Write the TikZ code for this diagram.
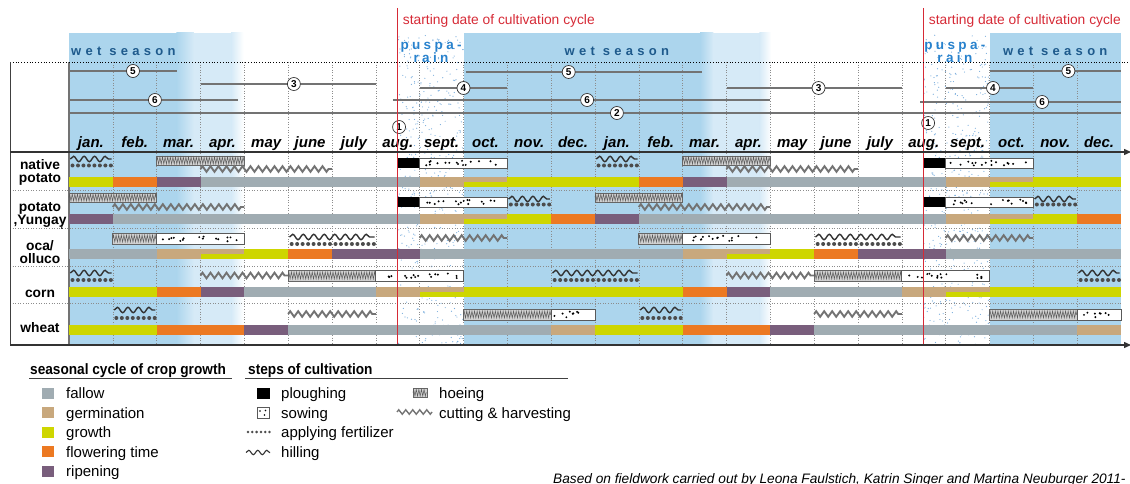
\documentclass[tikz,border=0pt]{standalone}
\usepackage{fontspec}
\setmainfont{Liberation Sans}
\newfontfamily\narrowfont[FakeStretch=0.91]{Liberation Sans}
\newfontfamily\wetfont[LetterSpace=33]{Liberation Sans}
\newfontfamily\puspafont[LetterSpace=25]{Liberation Sans}
\usetikzlibrary{decorations.pathmorphing, arrows.meta}

\definecolor{cfallow}{RGB}{160, 172, 178}
\definecolor{cgerm}{RGB}{200, 168, 125}
\definecolor{cgrow}{RGB}{206, 214, 0}
\definecolor{cflower}{RGB}{236, 121, 34}
\definecolor{cripe}{RGB}{121, 94, 124}
\definecolor{wetdark}{RGB}{172, 213, 237}
\definecolor{wetlight}{RGB}{214, 234, 247}
\definecolor{wettext}{RGB}{30, 90, 140}
\definecolor{puspatext}{RGB}{40, 130, 205}
\definecolor{puspadot}{RGB}{120, 172, 220}
\definecolor{redline}{RGB}{214, 42, 54}

\tikzset{
  hill/.style={draw=black!80, line width=1.4pt, decorate,
    decoration={snake, amplitude=2.7pt, segment length=10.5pt}},
  fertdot/.style={fill=black!70},
  cut/.style={draw=black!55, line width=1.9pt, decorate,
    decoration={zigzag, amplitude=2.8pt, segment length=8pt}},
  hoebox/.style={fill=black!18, draw=black!60, line width=0.7pt},
  hoeline/.style={draw=black!65, line width=0.5pt, decorate,
    decoration={zigzag, amplitude=3.4pt, segment length=2.6pt}},
  sowbox/.style={fill=white, draw=black!65, line width=0.8pt},
  num/.style={circle, draw=black!80, fill=white, line width=0.7pt, inner sep=0pt,
    minimum size=13pt, font=\bfseries\fontsize{10}{10}\selectfont},
  stepline/.style={draw=black!55, line width=1.1pt},
  month/.style={font=\bfseries\itshape\fontsize{15}{15}\selectfont, anchor=base, inner sep=0pt},
  crop/.style={font=\bfseries\fontsize{13.8}{13}\selectfont, align=center, inner sep=0pt},
  legtitle/.style={font=\narrowfont\bfseries\fontsize{15}{15}\selectfont, anchor=base west, inner sep=0pt},
  legtext/.style={font=\fontsize{15}{15}\selectfont, anchor=base west, inner sep=0pt},
}

% sowing box: from, to, top, bottom
\newcommand{\sowing}[4]{%
  \draw[sowbox] (#1,#3) rectangle (#2,#4);
  \pgfmathtruncatemacro{\ndots}{8*(#2-#1)}
  \foreach \i in {1,...,\ndots} {
    \pgfmathsetmacro{\dx}{#1+0.07+(#2-#1-0.14)*rnd}
    \pgfmathsetmacro{\dy}{#3+2.6+(#4-#3-5.2)*rnd}
    \fill (\dx,\dy) circle (1.1pt);
  }
}
% hoeing box: from, to, top, bottom
\newcommand{\hoeing}[4]{%
  \draw[hoebox] (#1,#3) rectangle (#2,#4);
  \draw[hoeline] (#1,{(#3+#4)/2}) -- (#2,{(#3+#4)/2});
}
% hilling with fertilizer: from, to, wave y, dots y
\newcommand{\hilling}[4]{%
  \draw[hill] (#1+0.03,#3) -- (#2-0.03,#3);
  \pgfmathtruncatemacro{\ndots}{(#2-#1-0.1)/0.125}
  \foreach \d in {0,...,\ndots} {
    \fill[fertdot] (#1+0.08+\d*0.125,#4) circle (2pt);
  }
}

\begin{document}
\begin{tikzpicture}[x=1pt, y=-1pt]
  \useasboundingbox (0,0) rectangle (1130,484);

  \begin{scope}[x=43.833pt, xshift=69pt]
  % wet seasons
  \fill[wetdark] (0,33) rectangle (2.45,345);
  \shade[left color=wetdark, right color=wetlight] (2.45,33) rectangle (2.85,345);
  \fill[wetlight] (2.85,33) rectangle (3.7,345);
  \shade[left color=wetlight, right color=white] (3.7,33) rectangle (3.98,345);

  \fill[wetdark] (9,33) rectangle (14.4,345);
  \shade[left color=wetdark, right color=wetlight] (14.4,33) rectangle (14.7,345);
  \fill[wetlight] (14.7,33) rectangle (15.75,345);
  \shade[left color=wetlight, right color=white] (15.75,33) rectangle (16.02,345);

  \fill[wetdark] (21,33) rectangle (24,345);

  % puspa rain
  \pgfmathsetseed{11}
  \foreach \s in {7.5, 19.5} {
    \foreach \i in {1,...,480} {
      \fill[puspadot] ({\s+1.5*rnd},{35+310*rnd}) circle (0.6pt);
    }
  }

  % grid
  \foreach \m in {1,...,23} {
    \draw[black!45, line width=0.6pt, dotted] (\m,62) -- (\m,345);
  }
  \draw[black!55, line width=1.4pt] (0,62) -- (0,345);
  \foreach \y in {190, 228, 266, 303} {
    \draw[black!45, line width=0.6pt, dotted] (-1.346,\y) -- (24,\y);
  }

  % native potato
  \foreach \a/\b/\c in {0/1/cgrow, 1/2/cflower, 2/3/cripe, 3/8/cfallow, 8/9/cgerm, 10/13/cgrow,
                        13/14/cflower, 14/15/cripe, 15/20/cfallow, 20/21/cgerm, 22/24/cgrow} {
    \fill[\c] (\a,177) rectangle (\b,187);
  }
  \foreach \a in {9, 21} {
    \fill[cgerm] (\a,177) rectangle (\a+1,182);
    \fill[cgrow] (\a,182) rectangle (\a+1,187);
  }
  \hilling{0}{1}{159}{165.5}
  \hilling{12}{13}{159}{165.5}
  \hoeing{2}{4}{156}{165}
  \hoeing{14}{16}{156}{165}
  \draw[cut] (3,169) -- (6,169);
  \draw[cut] (15,169) -- (18,169);
  \fill[black] (7.5,158) rectangle (8,168);
  \fill[black] (19.5,158) rectangle (20,168);
  \sowing{8}{10}{158}{168}
  \sowing{20}{22}{158}{168}

  % potato yungay
  \foreach \a/\b/\c in {0/1/cripe, 1/8/cfallow, 8/9/cgerm, 10/11/cgrow, 11/12/cflower, 12/13/cripe,
                        13/20/cfallow, 20/21/cgerm, 22/23/cgrow, 23/24/cflower} {
    \fill[\c] (\a,214) rectangle (\b,224);
  }
  \foreach \a in {9, 21} {
    \fill[cgerm] (\a,214) rectangle (\a+1,219);
    \fill[cgrow] (\a,219) rectangle (\a+1,224);
  }
  \hoeing{0}{2}{193}{202}
  \hoeing{12}{14}{193}{202}
  \draw[cut] (1,207) -- (4,207);
  \draw[cut] (13,207) -- (16,207);
  \fill[black] (7.5,197) rectangle (8,207);
  \fill[black] (19.5,197) rectangle (20,207);
  \sowing{8}{10}{197}{207}
  \sowing{20}{22}{197}{207}
  \hilling{10}{11}{199}{204.5}
  \hilling{22}{23}{199}{204.5}

  % oca / olluco
  \foreach \a/\b/\c in {0/2/cfallow, 2/3/cgerm, 4/5/cgrow, 5/6/cflower, 6/8/cripe, 8/14/cfallow,
                        14/15/cgerm, 16/17/cgrow, 17/18/cflower, 18/20/cripe, 20/24/cfallow} {
    \fill[\c] (\a,249) rectangle (\b,259);
  }
  \foreach \a in {3, 15} {
    \fill[cgerm] (\a,249) rectangle (\a+1,254);
    \fill[cgrow] (\a,254) rectangle (\a+1,259);
  }
  \hoeing{1}{2}{233}{244}
  \hoeing{13}{14}{233}{244}
  \sowing{2}{4}{233}{244}
  \sowing{14}{16}{233}{244}
  \hilling{5}{7}{237}{244}
  \hilling{17}{19}{237}{244}
  \draw[cut] (8,238) -- (10,238);
  \draw[cut] (20,238) -- (22,238);

  % corn
  \foreach \a/\b/\c in {0/2/cgrow, 2/3/cflower, 3/4/cripe, 4/7/cfallow, 7/8/cgerm, 9/14/cgrow,
                        14/15/cflower, 15/16/cripe, 16/19/cfallow, 19/20/cgerm, 21/24/cgrow} {
    \fill[\c] (\a,287) rectangle (\b,297);
  }
  \foreach \a in {8, 20} {
    \fill[cgerm] (\a,287) rectangle (\a+1,292);
    \fill[cgrow] (\a,292) rectangle (\a+1,297);
  }
  \hilling{0}{1}{273}{280}
  \hilling{11}{13}{273}{280}
  \hilling{23}{24}{273}{280}
  \draw[cut] (3,275.5) -- (5,275.5);
  \draw[cut] (15,275.5) -- (17,275.5);
  \hoeing{5}{7}{270}{281}
  \hoeing{17}{19}{270}{281}
  \sowing{7}{9}{270}{281}
  \sowing{19}{21}{270}{281}

  % wheat
  \foreach \a/\b/\c in {0/2/cgrow, 2/4/cflower, 4/5/cripe, 5/11/cfallow, 11/12/cgerm, 12/14/cgrow,
                        14/16/cflower, 16/17/cripe, 17/23/cfallow, 23/24/cgerm} {
    \fill[\c] (\a,325) rectangle (\b,335);
  }
  \hilling{1}{2}{310}{318}
  \hilling{13}{14}{310}{318}
  \draw[cut] (5,314) -- (7,314);
  \draw[cut] (17,314) -- (19,314);
  \hoeing{9}{11}{309}{320}
  \hoeing{21}{23}{309}{320}
  \sowing{11}{12}{309}{320}
  \sowing{23}{24}{309}{320}

  % durations of the steps
  \foreach \a/\b/\y/\c/\t/\nm in {0/2.46/71/1.46/5/n5a, 3/7/84/5.13/3/n3a, 0/3.86/100/1.96/6/n6a,
                                  0/24/113/12.5/2/n2, 7.39/16/100/11.82/6/n6b, 8/10/88/9/4/n4a,
                                  9.05/14.45/72/11.4/5/n5b, 15/19/88/17.1/3/n3b, 20/22/88/21.08/4/n4b,
                                  19.42/24/102/22.2/6/n6c, 21/24/71/22.8/5/n5c} {
    \draw[stepline] (\a,\y) -- (\b,\y);
    \node[num] (\nm) at (\c,\y) {\t};
  }
  \node[num] (n1a) at (7.53,127) {1};
  \node[num] (n1b) at (19.6,123) {1};

  % months
  \foreach \m [count=\i from 0] in {jan., feb., mar., apr., may, june, july, aug., sept., oct., nov., dec.,
                                    jan., feb., mar., apr., may, june, july, aug., sept., oct., nov., dec.} {
    \node[month] (mon\i) at (\i+0.5,148) {\m};
  }

  % seasons
  \foreach \x/\nm in {1.24/wet1, 12.5/wet2, 22.5/wet3} {
    \node[text=wettext, font=\wetfont\bfseries\fontsize{13}{13}\selectfont, anchor=base] (\nm) at (\x,56) {wet season};
  }
  \foreach \x/\nm in {8.26/puspa1, 20.21/puspa2} {
    \node[text=puspatext, font=\puspafont\bfseries\fontsize{13.5}{12.5}\selectfont, align=center, anchor=base,
          inner sep=0pt] (\nm) at (\x,63) {puspa-\\rain};
  }

  % starting date
  \foreach \x/\nm in {7.5/start1, 19.5/start2} {
    \draw[redline, line width=1.1pt] (\x,8) -- (\x,345);
    \node[text=redline, font=\fontsize{13.8}{14}\selectfont, anchor=base west, inner sep=0pt,
          xshift=5pt] (\nm) at (\x,25) {starting date of cultivation cycle};
  }
  \end{scope}

  % frame
  \draw[black, line width=0.8pt, dotted] (10,62) -- (1130,62);
  \draw[black!75, line width=1pt] (10,62) -- (10,345);
  \draw[black!80, line width=1.3pt, -{Triangle[length=7pt, width=6pt]}] (10,152) -- (1131,152);
  \draw[black!80, line width=1.3pt, -{Triangle[length=7pt, width=6pt]}] (10,345) -- (1131,345);

  % crops
  \node[crop] (cnative) at (40,172) {native\\potato};
  \node[crop] (cyungay) at (40,215) {potato\\,Yungay};
  \node[crop, font=\bfseries\fontsize{10}{10}\selectfont] (cquote) at (62,230) {‘};
  \node[crop] (coca) at (40,252) {oca/\\olluco};
  \node[crop] (ccorn) at (40,294) {corn};
  \node[crop] (cwheat) at (40,328) {wheat};

  % legend
  \node[legtitle] (tcycle) at (30,374) {seasonal cycle of crop growth};
  \node[legtitle] (tsteps) at (248,374) {steps of cultivation};
  \draw[black!75, line width=0.8pt] (29,378.5) -- (232,378.5);
  \draw[black!75, line width=0.8pt] (245,378.5) -- (568,378.5);

  \foreach \c/\t [count=\k from 0] in {cfallow/fallow, cgerm/germination, cgrow/growth,
                                       cflower/flowering time, cripe/ripening} {
    \fill[\c] (42,{387.5+19.5*\k}) rectangle (53.5,{398.5+19.5*\k});
    \node[legtext] (leg\c) at (66,{398.5+19.5*\k}) {\t};
  }

  \fill[black] (257,388) rectangle (270,398.5);
  \node[legtext] (lplough) at (281,398.5) {ploughing};
  \draw[sowbox] (257,407) rectangle (269,418);
  \foreach \x/\y in {260/411, 265.5/410.5, 264.5/415} {
    \fill (\x,\y) circle (0.9pt);
  }
  \node[legtext] (lsow) at (281,418) {sowing};
  \foreach \x in {0,...,5} {
    \fill[fertdot] (248+4.3*\x,432) circle (1.4pt);
  }
  \node[legtext] (lfert) at (281,437.5) {applying fertilizer};
  \draw[hill, line width=1.1pt, decoration={amplitude=2.2pt, segment length=9pt}] (246,452.5) -- (270,452.5);
  \node[legtext] (lhill) at (281,457) {hilling};
  \hoeing{413}{427}{388}{397.5}
  \node[legtext] (lhoe) at (439,398.5) {hoeing};
  \draw[cut, line width=1.4pt, decoration={amplitude=2.2pt, segment length=7pt}] (397,412) -- (432,412);
  \node[legtext] (lcut) at (439,418) {cutting \& harvesting};

  \node[anchor=base west, inner sep=0pt, font=\itshape\fontsize{13.7}{14}\selectfont] (source)
    at (553,483) {Based on fieldwork carried out by Leona Faulstich, Katrin Singer and Martina Neuburger 2011-};
\end{tikzpicture}
\end{document}
